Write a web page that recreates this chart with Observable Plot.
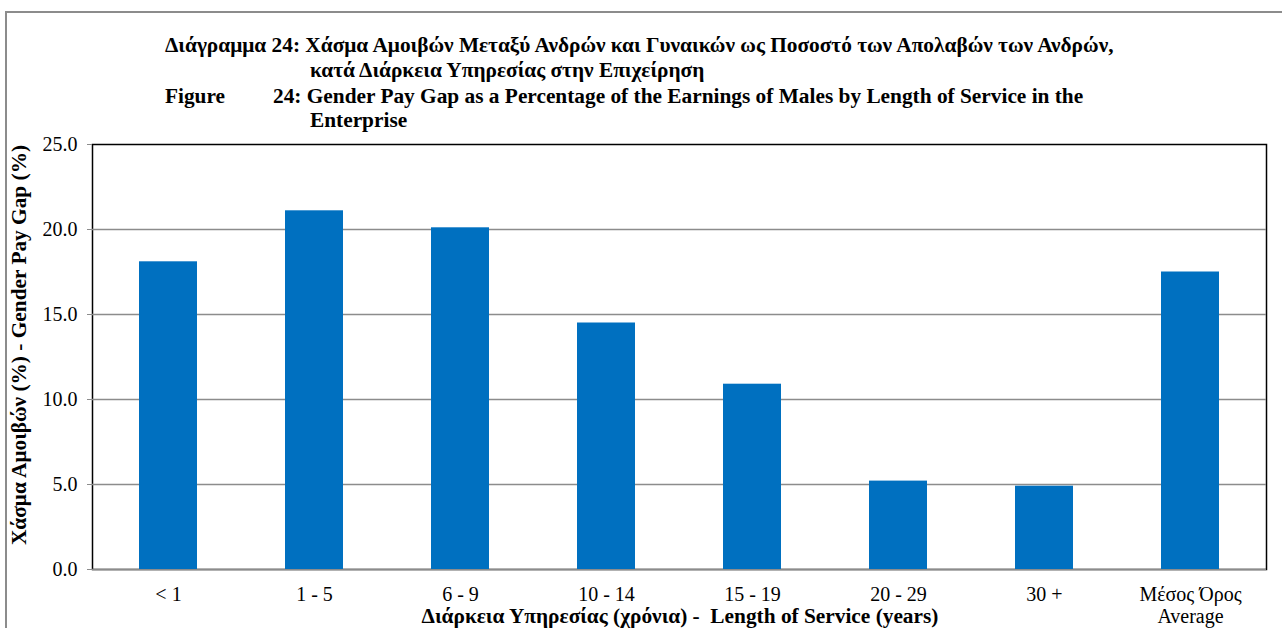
<!DOCTYPE html>
<html><head><meta charset="utf-8">
<script src="https://cdn.jsdelivr.net/npm/d3@7"></script>
<script src="https://cdn.jsdelivr.net/npm/@observablehq/plot@0.6"></script>
<style>
body{margin:0;background:#fff;}
#wrap{position:relative;width:1282px;height:628px;overflow:hidden;font-family:"Liberation Serif","Times New Roman",Times,Tinos,"DejaVu Serif",serif;background:#fff;}
#chart{position:absolute;left:0;top:0;}
.border{position:absolute;left:5px;top:11px;width:1300px;height:700px;border:2px solid #8c8c8c;box-sizing:border-box;}
.t{position:absolute;font-weight:bold;font-size:21.33px;white-space:nowrap;color:#000;line-height:1;}
.ylab{position:absolute;left:20px;top:345px;transform:translate(-50%,-50%) rotate(-90deg);font-weight:bold;font-size:21.33px;white-space:nowrap;line-height:1;}
.xlab{position:absolute;left:680px;top:606px;transform:translateX(-50%);font-weight:bold;font-size:21.33px;white-space:pre;line-height:1;}
</style></head><body>
<div id="wrap">
  <div id="chart"></div>
  <div class="border"></div>
  <div class="t" style="left:165px;top:35px">Διάγραμμα 24: Χάσμα Αμοιβών Μεταξύ Ανδρών και Γυναικών ως Ποσοστό των Απολαβών των Ανδρών,</div>
  <div class="t" style="left:310px;top:60px">κατά Διάρκεια Υπηρεσίας στην Επιχείρηση</div>
  <div class="t" style="left:165px;top:86px">Figure</div>
  <div class="t" style="left:273px;top:86px">24: Gender Pay Gap as a Percentage of the Earnings of Males by Length of Service in the</div>
  <div class="t" style="left:310px;top:110px">Enterprise</div>
  <div class="ylab">Χάσμα Αμοιβών (%) - Gender Pay Gap (%)</div>
  <div class="xlab">Διάρκεια Υπηρεσίας (χρόνια) -  Length of Service (years)</div>
</div>
<script>
const categories = ["< 1", "1 - 5", "6 - 9", "10 - 14", "15 - 19", "20 - 29", "30 +", "Μέσος Όρος\nAverage"];
const values = [18.1, 21.1, 20.1, 14.5, 10.9, 5.2, 4.9, 17.5];
const yTicks = [0, 5, 10, 15, 20, 25];

const data = categories.map((c, i) => ({cat: c, value: values[i]}));

const chart = Plot.plot({
  width: 1282,
  height: 628,
  marginLeft: 92,
  marginRight: 16,
  marginTop: 144,
  marginBottom: 59,
  style: {fontFamily: "'Liberation Serif', 'Times New Roman', Times, Tinos, 'DejaVu Serif', serif", fontSize: "20px", background: "transparent", color: "#000"},
  x: {domain: categories, paddingInner: 0.6, paddingOuter: 0.3, label: null},
  y: {domain: [0, 25], label: null},
  marks: [
    Plot.frame({stroke: "#000", strokeWidth: 1.5}),
    Plot.ruleY(yTicks.slice(0, -1), {stroke: "#8c8c8c", strokeWidth: 1.5}),
    Plot.barY(data, {x: "cat", y: "value", fill: "#0070C0"}),
    Plot.axisY({ticks: yTicks, tickFormat: d => d.toFixed(1), tickSize: 5, tickPadding: 10, stroke: "#8c8c8c", fill: "#000", line: true, label: null}),
    Plot.axisX({tickSize: 0, tickPadding: 16, fill: "#000", label: null, lineHeight: 1.1})
  ]
});
document.getElementById("chart").appendChild(chart);
</script>
</body></html>
